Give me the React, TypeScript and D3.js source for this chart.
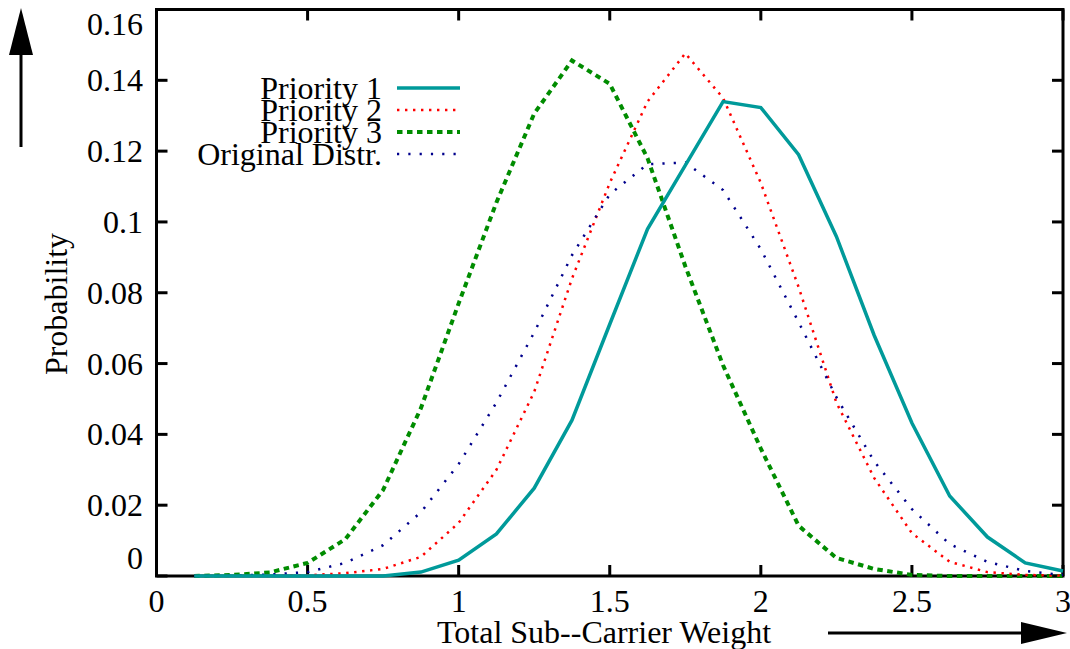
import React from 'react';
import * as d3 from 'd3';

const weights = [0.125, 0.25, 0.375, 0.5, 0.625, 0.75, 0.875, 1.0, 1.125, 1.25, 1.375, 1.5, 1.625, 1.75, 1.875, 2.0, 2.125, 2.25, 2.375, 2.5, 2.625, 2.75, 2.875, 3.0];

const priority1 = [0, 0, 0, 0, 0, 0, 0.0011, 0.0045, 0.0119, 0.0248, 0.044, 0.0711, 0.098, 0.116, 0.134, 0.1323, 0.119, 0.0959, 0.068, 0.0432, 0.0226, 0.011, 0.0037, 0.0014];
const priority2 = [0, 0, 0, 0.0002, 0.0008, 0.002, 0.0054, 0.015, 0.03, 0.052, 0.084, 0.111, 0.134, 0.1476, 0.135, 0.111, 0.0816, 0.049, 0.0277, 0.0121, 0.004, 0.0011, 0.0003, 0.0001];
const priority3 = [0, 0.0003, 0.001, 0.0037, 0.0104, 0.0243, 0.0474, 0.077, 0.1055, 0.1306, 0.1456, 0.139, 0.118, 0.0875, 0.0595, 0.036, 0.0142, 0.0051, 0.002, 0.0003, 0, 0, 0, 0];
const originalDistr = [0, 0.0001, 0.0004, 0.0011, 0.0037, 0.0087, 0.018, 0.0316, 0.049, 0.0688, 0.0906, 0.1078, 0.1163, 0.1168, 0.109, 0.0923, 0.0717, 0.0505, 0.0324, 0.0189, 0.009, 0.004, 0.0014, 0.0003];

const seriesNames = ['Priority 1', 'Priority 2', 'Priority 3', 'Original Distr.'];

const xTicks = [0, 0.5, 1, 1.5, 2, 2.5, 3];
const xTickLabels = ['0', '0.5', '1', '1.5', '2', '2.5', '3'];
const yTicks = [0, 0.02, 0.04, 0.06, 0.08, 0.1, 0.12, 0.14, 0.16];
const yTickLabels = ['0', '0.02', '0.04', '0.06', '0.08', '0.1', '0.12', '0.14', '0.16'];

const xTitle = 'Total Sub--Carrier Weight';
const yTitle = 'Probability';

export default function App() {
  const W = 1070;
  const H = 649;
  const left = 156.5, right = 1063, top = 9.5, bottom = 576;
  const font = '"Liberation Serif", "Times New Roman", serif';
  const fs = 32;

  const x = d3.scaleLinear().domain([0, 3]).range([left, right]);
  const y = d3.scaleLinear().domain([0, 0.16]).range([bottom, top]);
  const line = d3.line<number>().x((_, i) => x(weights[i])).y((d) => y(d));

  const styles = [
    { values: priority1, color: '#009a9a', width: 3.5, dash: undefined as string | undefined },
    { values: priority2, color: '#ff0000', width: 2.5, dash: '2.4 5.6' },
    { values: priority3, color: '#008c00', width: 4, dash: '5.5 4.5' },
    { values: originalDistr, color: '#00008c', width: 2.5, dash: '2.2 9.1' },
  ];
  const drawOrder = [2, 1, 3, 0];

  const tickLen = 11;
  const legendX1 = 397, legendX2 = 460, legendTextX = 382;
  const legendY = [88, 110, 132, 154];

  return (
    <svg width={W} height={H} style={{ position: 'absolute', left: 0, top: 0, background: '#fff' }} fontFamily={font}>
      <rect x={0} y={0} width={W} height={H} fill="#fff" />
      {/* frame */}
      <rect x={left} y={top} width={right - left} height={bottom - top} fill="none" stroke="#000" strokeWidth={3} />
      {/* y ticks */}
      {yTicks.map((t, i) => (
        <g key={'yt' + i}>
          <line x1={left} x2={left + tickLen} y1={y(t)} y2={y(t)} stroke="#000" strokeWidth={3} />
          <line x1={right} x2={right - tickLen} y1={y(t)} y2={y(t)} stroke="#000" strokeWidth={3} />
          <text x={143} y={Math.min(Math.max(y(t), top + 14), bottom - 18)} textAnchor="end" dominantBaseline="central" fontSize={fs}>
            {yTickLabels[i]}
          </text>
        </g>
      ))}
      {/* x ticks */}
      {xTicks.map((t, i) => (
        <g key={'xt' + i}>
          <line x1={x(t)} x2={x(t)} y1={bottom} y2={bottom - tickLen} stroke="#000" strokeWidth={3} />
          <line x1={x(t)} x2={x(t)} y1={top} y2={top + tickLen} stroke="#000" strokeWidth={3} />
          <text x={x(t)} y={601} textAnchor="middle" dominantBaseline="central" fontSize={fs}>
            {xTickLabels[i]}
          </text>
        </g>
      ))}
      {/* series */}
      {drawOrder.map((si) => {
        const s = styles[si];
        return (
          <path key={'s' + si} d={line(s.values) || ''} fill="none" stroke={s.color} strokeWidth={s.width} strokeDasharray={s.dash} strokeLinejoin="miter" />
        );
      })}
      {/* legend */}
      {seriesNames.map((name, i) => (
        <g key={'lg' + i}>
          <text x={legendTextX} y={legendY[i]} textAnchor="end" dominantBaseline="central" fontSize={fs}>
            {name}
          </text>
          <line x1={legendX1} x2={legendX2} y1={legendY[i]} y2={legendY[i]} stroke={styles[i].color} strokeWidth={styles[i].width} strokeDasharray={styles[i].dash} />
        </g>
      ))}
      {/* axis titles */}
      <text x={604} y={632} textAnchor="middle" dominantBaseline="central" fontSize={fs}>{xTitle}</text>
      <text x={0} y={0} transform={`translate(56,304) rotate(-90)`} textAnchor="middle" dominantBaseline="central" fontSize={fs}>{yTitle}</text>
      {/* arrows */}
      <line x1={21} x2={21} y1={147} y2={52} stroke="#000" strokeWidth={3} />
      <path d="M21,8 L33,55 L9,55 Z" fill="#000" />
      <line x1={828} x2={1024} y1={633} y2={633} stroke="#000" strokeWidth={3} />
      <path d="M1067,633 L1021,622 L1021,644 Z" fill="#000" />
    </svg>
  );
}
